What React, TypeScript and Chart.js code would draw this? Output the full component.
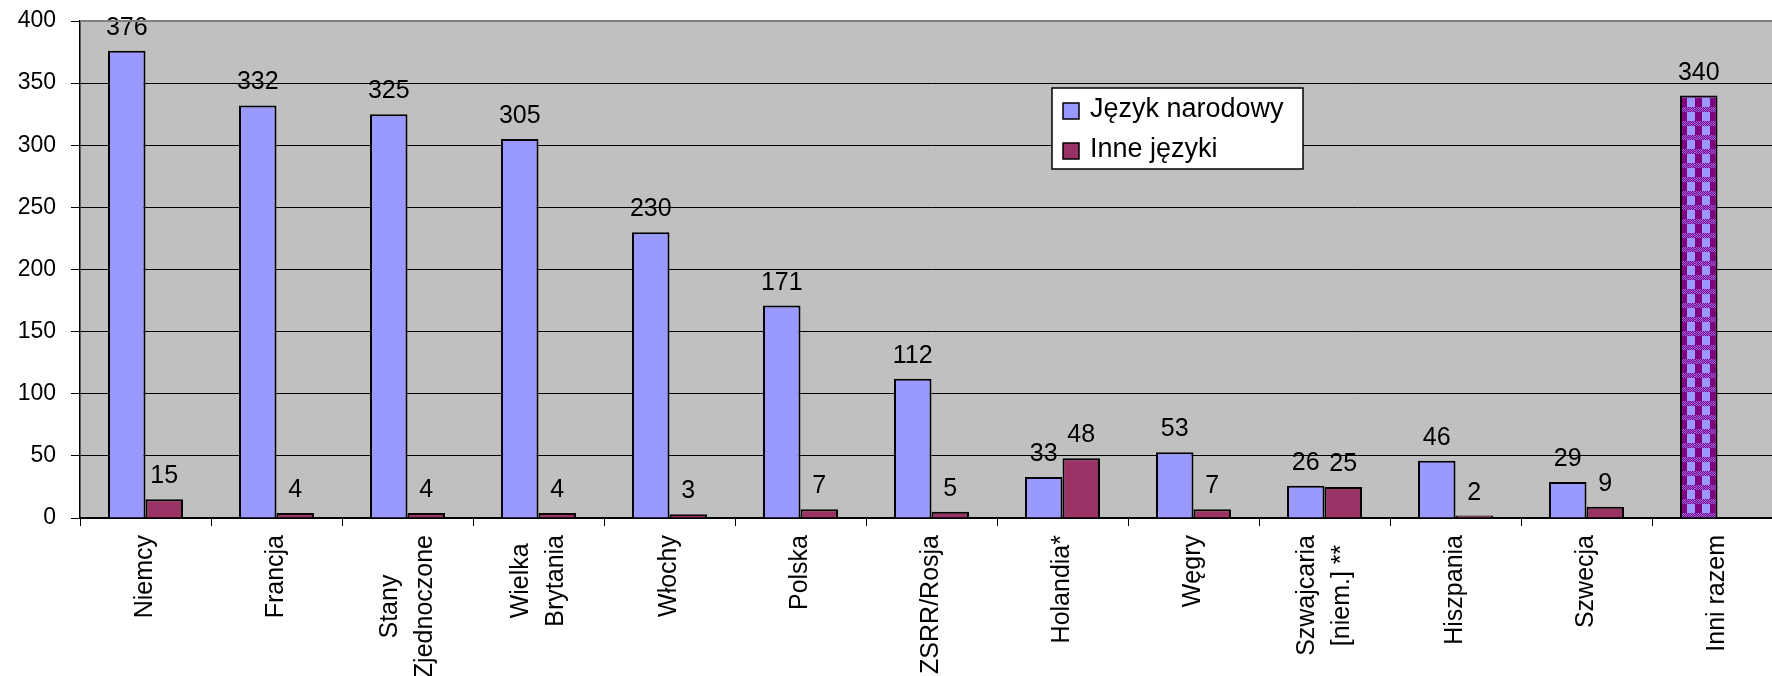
import React, { useEffect, useRef } from 'react';
import { Chart, registerables } from 'chart.js';

Chart.register(...registerables);

// ---- data ----
const categories: string[][] = [
  ['Niemcy'],
  ['Francja'],
  ['Stany', 'Zjednoczone'],
  ['Wielka', 'Brytania'],
  ['Włochy'],
  ['Polska'],
  ['ZSRR/Rosja'],
  ['Holandia*'],
  ['Węgry'],
  ['Szwajcaria', '[niem.] **'],
  ['Hiszpania'],
  ['Szwecja'],
  ['Inni razem'],
];
const nationalLanguage: (number | null)[] = [376, 332, 325, 305, 230, 171, 112, 33, 53, 26, 46, 29, 340];
const otherLanguages: (number | null)[] = [15, 4, 4, 4, 3, 7, 5, 48, 7, 25, 2, 9, null];
const seriesNames = ['Język narodowy', 'Inne języki'];
const totalCategory = 'Inni razem';
const yMin = 0;
const yMax = 400;
const yStep = 50;

// ---- style ----
const FONT = "'Liberation Sans', Arial, sans-serif";
const BLUE = '#9999FF';
const PLUM = '#993366';

function makePattern(): CanvasPattern | string {
  const c = document.createElement('canvas');
  c.width = 15;
  c.height = 14;
  const g = c.getContext('2d');
  if (!g) return '#800080';
  g.fillStyle = '#800080';
  g.fillRect(0, 0, 15, 14);
  g.fillStyle = BLUE;
  g.fillRect(7, 0, 8, 9);
  for (let y = 9; y < 14; y++) {
    for (let x = 0; x < 15; x++) {
      if ((x + y) % 2 === 0) {
        g.fillStyle = '#9966EE';
        g.fillRect(x, y, 1, 1);
      }
    }
  }
  return g.createPattern(c, 'repeat') || '#800080';
}

const plotBg = {
  id: 'plotBg',
  beforeDraw(chart: any) {
    const { ctx, chartArea: a } = chart;
    ctx.save();
    ctx.fillStyle = '#C0C0C0';
    ctx.fillRect(a.left, a.top, a.right - a.left, a.bottom - a.top);
    ctx.restore();
  },
  afterDraw(chart: any) {
    const { ctx, chartArea: a } = chart;
    ctx.save();
    ctx.strokeStyle = '#808080';
    ctx.lineWidth = 2;
    ctx.beginPath();
    ctx.moveTo(a.left, a.top);
    ctx.lineTo(a.right, a.top);
    ctx.stroke();
    ctx.restore();
  },
};

const valueLabels = {
  id: 'valueLabels',
  afterDatasetsDraw(chart: any) {
    const { ctx } = chart;
    ctx.save();
    ctx.font = `25px ${FONT}`;
    ctx.fillStyle = '#000';
    ctx.textAlign = 'center';
    ctx.textBaseline = 'alphabetic';
    chart.data.datasets.forEach((ds: any, di: number) => {
      const meta = chart.getDatasetMeta(di);
      meta.data.forEach((bar: any, i: number) => {
        const v = ds.data[i];
        if (v === null || v === undefined) return;
        ctx.fillText(String(v), bar.x, bar.y - 16);
      });
    });
    ctx.restore();
  },
};

const xLabels = {
  id: 'xLabels',
  afterDraw(chart: any) {
    const { ctx } = chart;
    const xs = chart.scales.x;
    const top = chart.chartArea.bottom + 17;
    const lineH = 35;
    ctx.save();
    ctx.font = `25px ${FONT}`;
    ctx.fillStyle = '#000';
    ctx.textAlign = 'center';
    ctx.textBaseline = 'middle';
    categories.forEach((lines, i) => {
      const cx = xs.getPixelForValue(i);
      const maxW = Math.max(...lines.map((l) => ctx.measureText(l).width));
      const cy = top + maxW / 2;
      lines.forEach((line, j) => {
        const lx = cx + (j - (lines.length - 1) / 2) * lineH;
        ctx.save();
        ctx.translate(lx, cy);
        ctx.rotate(-Math.PI / 2);
        ctx.fillText(line, 0, 0);
        ctx.restore();
      });
    });
    ctx.restore();
  },
};

const boxLegend = {
  id: 'boxLegend',
  afterDraw(chart: any) {
    const { ctx } = chart;
    const colors = [BLUE, PLUM];
    const bx = 1052, by = 88, bw = 251, bh = 81;
    ctx.save();
    ctx.fillStyle = '#FFFFFF';
    ctx.fillRect(bx, by, bw, bh);
    ctx.strokeStyle = '#000';
    ctx.lineWidth = 1.5;
    ctx.strokeRect(bx, by, bw, bh);
    ctx.font = `27px ${FONT}`;
    ctx.textAlign = 'left';
    ctx.textBaseline = 'middle';
    chart.data.datasets.forEach((ds: any, i: number) => {
      const sy = 103 + i * 40;
      ctx.fillStyle = colors[i];
      ctx.fillRect(1063, sy, 16, 16);
      ctx.lineWidth = 1.5;
      ctx.strokeStyle = '#000';
      ctx.strokeRect(1063, sy, 16, 16);
      ctx.fillStyle = '#000';
      ctx.fillText(ds.label, 1090, sy + 7);
    });
    ctx.restore();
  },
};

export default function App() {
  const ref = useRef<HTMLCanvasElement | null>(null);

  useEffect(() => {
    if (!ref.current) return;
    const pattern = makePattern();
    const chart = new Chart(ref.current, {
      type: 'bar',
      data: {
        labels: categories as any,
        datasets: [
          {
            label: seriesNames[0],
            data: nationalLanguage as any,
            backgroundColor: categories.map((c) => (c.join(' ') === totalCategory ? pattern : BLUE)) as any,
            borderColor: '#000',
            borderWidth: 2,
          },
          {
            label: seriesNames[1],
            data: otherLanguages as any,
            backgroundColor: PLUM,
            borderColor: '#000',
            borderWidth: 2,
          },
        ],
      },
      options: {
        responsive: false,
        animation: false,
        devicePixelRatio: 1,
        layout: { padding: { top: 21, left: 0, right: 0, bottom: 0 } },
        datasets: { bar: { categoryPercentage: 0.5725, barPercentage: 1 } },
        plugins: { legend: { display: false }, tooltip: { enabled: false } },
        scales: {
          x: {
            grid: { offset: true, drawOnChartArea: false, drawTicks: true, tickLength: 8, color: '#000', lineWidth: 1 },
            border: { color: '#000', width: 1.5 },
            ticks: { display: false },
            afterFit: (s: any) => {
              s.height = 158;
              s.paddingLeft = 0;
              s.paddingRight = 0;
            },
          },
          y: {
            min: yMin,
            max: yMax,
            ticks: { stepSize: yStep, font: { family: FONT, size: 23 }, color: '#000', padding: 15 },
            grid: { color: '#000', lineWidth: 1, tickLength: 9 },
            border: { color: '#000', width: 1.5 },
            afterFit: (s: any) => {
              s.width = 80;
              s.paddingTop = 0;
              s.paddingBottom = 0;
            },
          },
        },
      } as any,
      plugins: [plotBg, valueLabels, xLabels, boxLegend],
    });
    return () => chart.destroy();
  }, []);

  return (
    <div style={{ position: 'fixed', left: 0, top: 0, width: '100vw', height: '100vh', overflow: 'hidden', background: '#fff' }}>
      <canvas ref={ref} width={1783} height={676} style={{ display: 'block', width: 1783, height: 676 }} />
    </div>
  );
}
